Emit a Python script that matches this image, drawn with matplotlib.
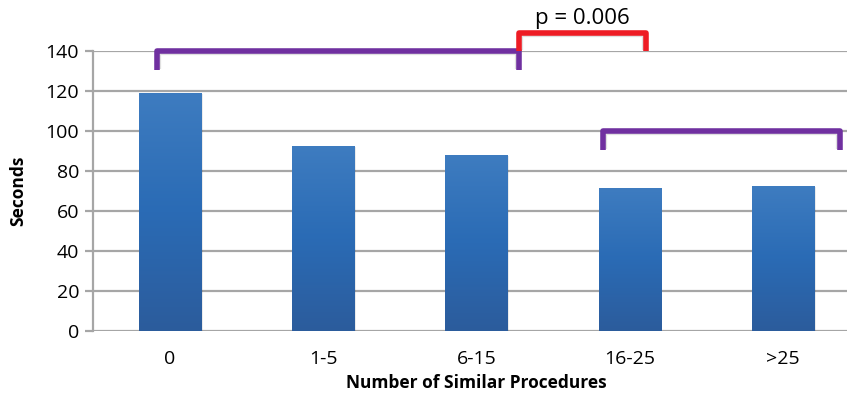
import matplotlib.pyplot as plt
import numpy as np
from matplotlib.colors import LinearSegmentedColormap

# data
categories = ["0", "1-5", "6-15", "16-25", ">25"]
seconds = [119, 92.5, 88, 71.5, 72.5]
y_ticks = [0, 20, 40, 60, 80, 100, 120, 140]

# comparison brackets: (x start, x end, top, leg bottom)
brackets_purple = [(-0.08, 2.28, 140, 130.5), (2.83, 4.37, 100, 90.5)]
bracket_red = (2.28, 3.11, 149, 140)
p_label = "p = 0.006"

plt.rcParams['font.family'] = ['Open Sans', 'DejaVu Sans']

fig = plt.figure(figsize=(8.47, 3.94), dpi=100)
ax = fig.add_axes([93 / 847, 1 - 331 / 394, 766.5 / 847, 280 / 394])
ax.patch.set_alpha(0)

# grid
for t in y_ticks:
    ax.axhline(t, color="#A6A6A6", lw=1.6, zorder=0)

# bars with a vertical gradient
cmap = LinearSegmentedColormap.from_list("bar", ["#2C5C9C", "#2A6BB5", "#3E7CC0"])
grad = np.linspace(0, 1, 256).reshape(-1, 1)
width = 0.405
x = np.arange(len(categories))
bars = ax.bar(x, seconds, width, color="none", zorder=2)
for b in bars:
    x0, h = b.get_x(), b.get_height()
    # soft shadow
    ax.bar(x0 + width / 2 + 0.012, h, width, bottom=-0.6, color="#000000", alpha=0.08, zorder=1)
    ax.imshow(grad, cmap=cmap, aspect="auto", origin="lower",
              extent=[x0, x0 + width, 0, h], zorder=2)
ax.set_xlim(-0.5, 4.5)
ax.set_ylim(0, 140)

# brackets
def bracket(x1, x2, top, low, color):
    ax.plot([x1 + 0.006, x1 + 0.006, x2 - 0.006, x2 - 0.006], [low + 0.5, top - 0.5, top - 0.5, low + 0.5],
            color="#000000", alpha=0.12, lw=4.5, solid_joinstyle="round",
            solid_capstyle="butt", zorder=3, clip_on=False)
    ax.plot([x1, x1, x2, x2], [low, top, top, low], color=color, lw=4,
            solid_joinstyle="round", solid_capstyle="butt", zorder=4, clip_on=False)

for x1, x2, top, low in brackets_purple:
    bracket(x1, x2, top, low, "#7030A0")
bracket(*bracket_red, "#EE1C24")
ax.text((bracket_red[0] + bracket_red[1]) / 2, 151, p_label, ha="center", va="bottom",
        fontsize=16, color="#000000", clip_on=False)

# axes
for s in ["top", "right", "bottom"]:
    ax.spines[s].set_visible(False)
ax.spines["left"].set_color("#A6A6A6")
ax.spines["left"].set_linewidth(1.6)
ax.set_xticks(x)
ax.set_xticklabels(categories, fontsize=14)
ax.set_yticks(y_ticks)
ax.set_yticklabels([str(t) for t in y_ticks], fontsize=14)
ax.tick_params(axis="x", length=0, pad=14)
ax.tick_params(axis="y", length=6, color="#A6A6A6", width=1.6, pad=4, direction="out")
ax.set_ylabel("Seconds", fontsize=12.5, fontweight="bold")
ax.yaxis.set_label_coords(-66 / 766.5, 0.5)
ax.set_xlabel("Number of Similar Procedures", fontsize=12.5, fontweight="bold", va="center")
ax.xaxis.set_label_coords(383 / 766.5, -52 / 280)

fig.savefig("out.png", dpi=100)
